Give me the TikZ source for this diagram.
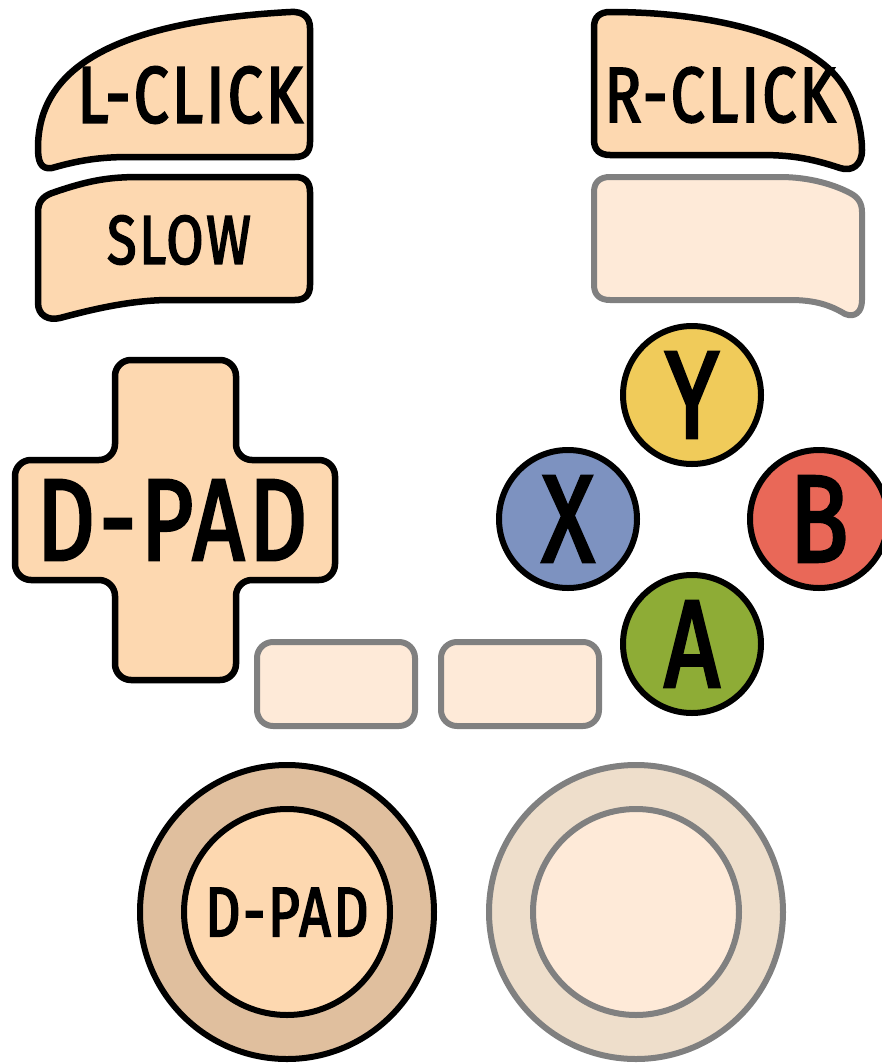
\documentclass[tikz,border=0pt]{standalone}
\usepackage{fontspec}
\setmainfont[FakeStretch=0.78, FakeBold=2.5, LetterSpace=4]{Fira Sans}
\usepackage{xcolor}
\definecolor{padfill}{HTML}{FDD8B0}
\definecolor{ghostfill}{HTML}{FEEAD8}
\definecolor{ringfill}{HTML}{E0BF9E}
\definecolor{ghostring}{HTML}{EEDECB}
\definecolor{ghostline}{HTML}{808080}
\definecolor{btnY}{HTML}{F0CB5A}
\definecolor{btnX}{HTML}{7D92C0}
\definecolor{btnB}{HTML}{E96858}
\definecolor{btnA}{HTML}{8EAC36}

\begin{document}
\begin{tikzpicture}[x=1pt, y=-1pt,
    keybox/.style = {draw=black, line width=6.5pt, fill=padfill, line join=round},
    ghostbox/.style = {draw=ghostline, line width=6pt, fill=ghostfill, line join=round},
    keytext/.style = {inner sep=0pt, font=\fontsize{#1}{#1}\selectfont},
    face/.style = {shape=circle, draw, line width=6pt, minimum size=138pt,
      inner sep=0pt, font=\fontsize{124}{124}\selectfont},
    stick/.style = {shape=circle, draw, line width=6pt, inner sep=0pt}]
  \useasboundingbox (0,0) rectangle (882,1063);
  % shoulder keys
  \draw[keybox] (52,168) .. controls (40,170) and (38,160) .. (38,148)
    .. controls (38,70) and (110,22) .. (290,12)
    .. controls (304,11) and (310,18) .. (310,28) -- (310,142)
    .. controls (310,152) and (305,157) .. (295,157) -- (130,157)
    .. controls (100,157) and (80,160) .. (52,168) -- cycle;
  \draw[keybox] (38,212) .. controls (38,200) and (45,195) .. (55,192)
    .. controls (90,180) and (110,177) .. (140,177) -- (295,177)
    .. controls (305,177) and (310,182) .. (310,192) -- (310,285)
    .. controls (310,295) and (305,300) .. (295,300) -- (170,300)
    .. controls (130,300) and (90,310) .. (60,318)
    .. controls (48,321) and (38,315) .. (38,303) -- cycle;
  \draw[keybox] (610,12) .. controls (700,12) and (785,30) .. (828,68)
    .. controls (855,92) and (862,130) .. (862,150)
    .. controls (862,165) and (852,172) .. (840,168)
    .. controls (810,158) and (790,155) .. (760,155) -- (610,155)
    .. controls (600,155) and (594,150) .. (594,140) -- (594,27)
    .. controls (594,17) and (600,12) .. (610,12) -- cycle;
  \draw[ghostbox] (610,177) -- (780,177)
    .. controls (810,177) and (835,185) .. (850,193)
    .. controls (858,197) and (862,203) .. (862,212) -- (862,300)
    .. controls (862,312) and (855,318) .. (845,314)
    .. controls (830,305) and (815,300) .. (790,300) -- (610,300)
    .. controls (600,300) and (594,295) .. (594,285) -- (594,192)
    .. controls (594,182) and (600,177) .. (610,177) -- cycle;
  \node[keytext=80] (lclick) at (190,95) {L-CLICK};
  \node[keytext=78] (rclick) at (720,95) {R-CLICK};
  \node[keytext=69] (slow) at (179,240) {SLOW};
  % cross pad
  \draw[keybox, rounded corners=16pt] (115,360) -- (236,360) -- (236,460)
    -- (335,460) -- (335,580) -- (236,580) -- (236,680) -- (115,680)
    -- (115,580) -- (15,580) -- (15,460) -- (115,460) -- cycle;
  \node[keytext=116] (dpad) at (172,520) {D-PAD};
  % face buttons
  \node[face, fill=btnY] (y) at (692,395) {Y};
  \node[face, fill=btnX] (x) at (568,519) {X};
  \node[face, fill=btnB] (b) at (819,519) {B};
  \node[face, fill=btnA] (a) at (692,644) {A};
  % middle keys
  \node[ghostbox, rounded corners=16pt, minimum width=158pt, minimum height=84pt]
    (select) at (336,684) {};
  \node[ghostbox, rounded corners=16pt, minimum width=158pt, minimum height=84pt]
    (start) at (520,684) {};
  % sticks
  \node[stick, fill=ringfill, minimum size=294pt] (lring) at (287,912) {};
  \node[stick, fill=padfill, minimum size=206pt, font=\fontsize{70}{70}\selectfont]
    (lstick) at (287,912) {D-PAD};
  \node[stick, draw=ghostline, fill=ghostring, minimum size=294pt] (rring) at (636,912) {};
  \node[stick, draw=ghostline, fill=ghostfill, minimum size=206pt] (rstick) at (636,912) {};
\end{tikzpicture}
\end{document}
